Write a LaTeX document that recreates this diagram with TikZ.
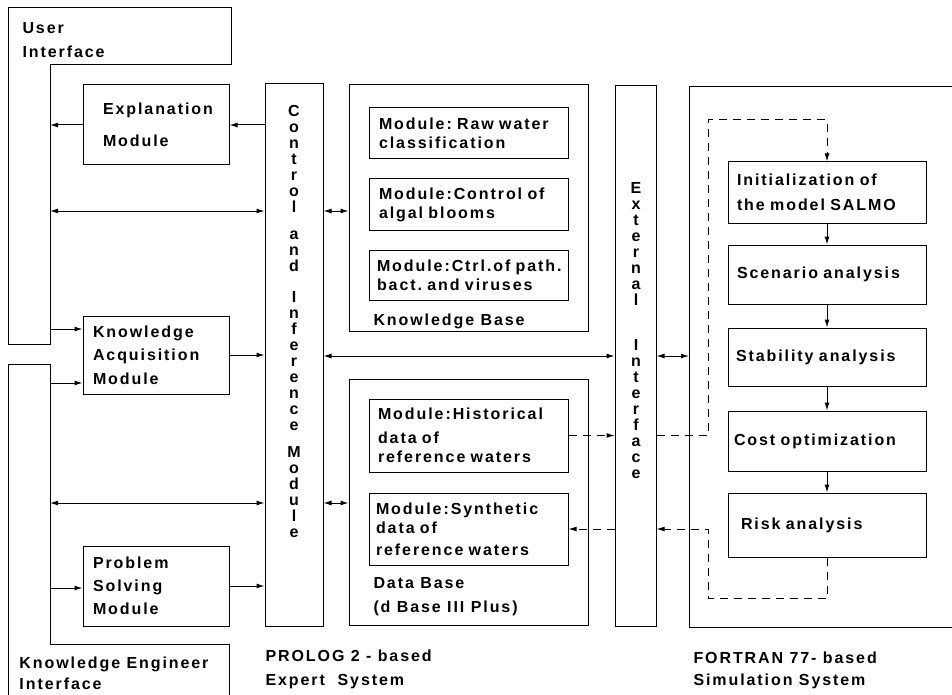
\documentclass[tikz,border=0pt]{standalone}
\usepackage{fontspec}
\usetikzlibrary{arrows.meta}
\newfontfamily\lblfont{Liberation Sans Bold}[LetterSpace=12]
\newfontfamily\letfont{Liberation Sans Bold}

\begin{document}
\begin{tikzpicture}[
        x=1pt, y=-1pt,
        line width=1pt,
        lines/.style={font=\lblfont\fontsize{16}{#1}\selectfont},
        lines/.default=19,
        frame/.style={draw, line join=miter},
        holder/.style={draw, inner sep=0pt},
        modbox/.style={draw, inner sep=0pt, align=left, lines},
        vtxt/.style={inner sep=0pt, align=center, font=\letfont\fontsize{16}{16}\selectfont},
        title/.style={inner sep=0pt, anchor=north west, align=left, lines=#1},
        title/.default=22,
        arr/.style={-{Latex[length=8pt,width=5pt]}},
        darr/.style={{Latex[length=8pt,width=5pt]}-{Latex[length=8pt,width=5pt]}},
        dashline/.style={dash pattern=on 8pt off 6pt}
    ]
  \useasboundingbox (0,0) rectangle (952,695);

  %%% Interfaces on the left
  \draw[frame] (8,8) -- (231,8) -- (231,65) -- (50,65) -- (50,344) -- (8,344) -- cycle;
  \node[title=24] (uitxt) at (22,22) {User\\Interface};
  \draw[frame] (8,695) -- (8,364) -- (50,364) -- (50,644) -- (229,644) -- (229,695);
  \node[title=21] (ketxt) at (19,656) {Knowledge~Engineer\\Interface};
  \coordinate (uiA) at (50,211);
  \coordinate (uiB) at (50,329);
  \coordinate (keA) at (50,383);
  \coordinate (keB) at (50,503);
  \coordinate (keC) at (50,588);

  %%% Expert system
  \node[modbox, lines=32, minimum width=146pt, minimum height=80pt, text width=106pt]
    (expl) at (156,125) {Explanation\\Module};
  \node[modbox, lines=23.5, minimum width=146pt, minimum height=78pt, text width=126pt]
    (kacq) at (156,355) {Knowledge\\Acquisition\\Module};
  \node[modbox, lines=23, minimum width=146pt, minimum height=80pt, text width=126pt]
    (psolv) at (156,586) {Problem\\Solving\\Module};
  \node[holder, minimum width=58pt, minimum height=542pt] (ctrl) at (294,355) {};
  \node[vtxt] (ctrltxt) at (294,321)
    {C\\o\\n\\t\\r\\o\\l\\[11pt]a\\n\\d\\[15pt]I\\n\\f\\e\\r\\e\\n\\c\\e\\[11pt]M\\o\\d\\u\\l\\e};

  % Knowledge base
  \node[holder, minimum width=239pt, minimum height=246pt] (kbase) at (468.5,208) {};
  \node[modbox, minimum width=199pt, minimum height=51pt, text width=179pt]
    (raw) at (468.5,133.5) {Module:~Raw~water\\classification};
  \node[modbox, minimum width=199pt, minimum height=51pt, text width=179pt]
    (algal) at (468.5,204.5) {Module:Control~of\\algal~blooms};
  \node[modbox, minimum width=199pt, minimum height=50pt, text width=183pt]
    (path) at (468.5,275) {Module:Ctrl.of~path.\\bact.~and~viruses};
  \node[title] (kbtxt) at (373,313) {Knowledge~Base};

  % Data base
  \node[holder, minimum width=239pt, minimum height=246pt] (dbase) at (468.5,502) {};
  \node[modbox, minimum width=199pt, minimum height=73pt, text width=181pt]
    (hist) at (468.5,435.5) {Module:Historical\\[5pt]data~of\\reference~waters};
  \node[modbox, minimum width=199pt, minimum height=72pt, text width=185pt]
    (synt) at (468.5,529) {Module:Synthetic\\data~of\\[3pt]reference~waters};
  \node[title=24] (dbtxt) at (373,577) {Data~Base\\(d~Base~III~Plus)};

  % External interface
  \node[holder, minimum width=41pt, minimum height=540pt] (extif) at (635.5,356) {};
  \node[vtxt] (extiftxt) at (636,331)
    {E\\x\\t\\e\\r\\n\\a\\l\\[29pt]I\\n\\t\\e\\r\\f\\a\\c\\e};

  %%% Simulation system
  \draw[frame] (952,87) -- (689,87) -- (689,627) -- (952,627);
  \coordinate (simL) at (689,356);
  \node[modbox, lines=25, minimum width=198pt, minimum height=61pt, text width=180pt]
    (init) at (827,192.5) {Initialization~of\\the~model~SALMO};
  \node[modbox, minimum width=198pt, minimum height=59pt, text width=180pt]
    (scen) at (827,274.5) {Scenario~analysis};
  \node[modbox, minimum width=198pt, minimum height=58pt, text width=182pt]
    (stab) at (827,357) {Stability~analysis};
  \node[modbox, minimum width=198pt, minimum height=60pt, text width=186pt]
    (cost) at (827,441) {Cost~optimization};
  \node[modbox, minimum width=198pt, minimum height=64pt, text width=172pt]
    (risk) at (827,525) {Risk~analysis};

  %%% Captions
  \node[title=24] (expsys) at (265,649) {PROLOG~2~-~based\\Expert~~System};
  \node[title=22] (simsys) at (693,651) {FORTRAN~77-~based\\Simulation~System};

  %%% Connectors
  \draw[arr] (expl.west) -- (expl.west -| uiA);
  \draw[arr] (expl.east -| ctrl.west) -- (expl.east);
  \draw[darr] (uiA) -- (uiA -| ctrl.west);
  \draw[arr] (uiB) -- (uiB -| kacq.west);
  \draw[arr] (keA) -- (keA -| kacq.west);
  \draw[arr] (kacq.east) -- (kacq.east -| ctrl.west);
  \draw[darr] (keB) -- (keB -| ctrl.west);
  \draw[arr] (keC) -- (keC -| psolv.west);
  \draw[arr] (psolv.east) -- (psolv.east -| ctrl.west);
  \draw[darr] (uiA -| ctrl.east) -- (uiA -| kbase.west);
  \draw[darr] (extif.west -| ctrl.east) -- (extif.west);
  \draw[darr] (keB -| ctrl.east) -- (keB -| dbase.west);
  \draw[darr] (extif.east) -- (simL);
  % data exchange with the simulation
  \draw[arr, dashline] (hist.east) -- (hist.east -| extif.west);
  \draw[arr, dashline] (synt.east -| extif.west) -- (synt.east);
  \coordinate (lpA) at (708,120);
  \coordinate (lpB) at (708,598);
  \draw[arr, dashline] (hist.east -| extif.east) -- (hist.east -| lpA) -- (lpA)
    -- (lpA -| init.north) -- (init.north);
  \draw[arr, dashline] (risk.south) -- (risk.south |- lpB) -- (lpB)
    -- (lpB |- synt.east) -- (synt.east -| extif.east);
  \foreach \a/\b in {init/scen, scen/stab, stab/cost, cost/risk}
    \draw[arr] (\a.south) -- (\b.north);
\end{tikzpicture}
\end{document}
